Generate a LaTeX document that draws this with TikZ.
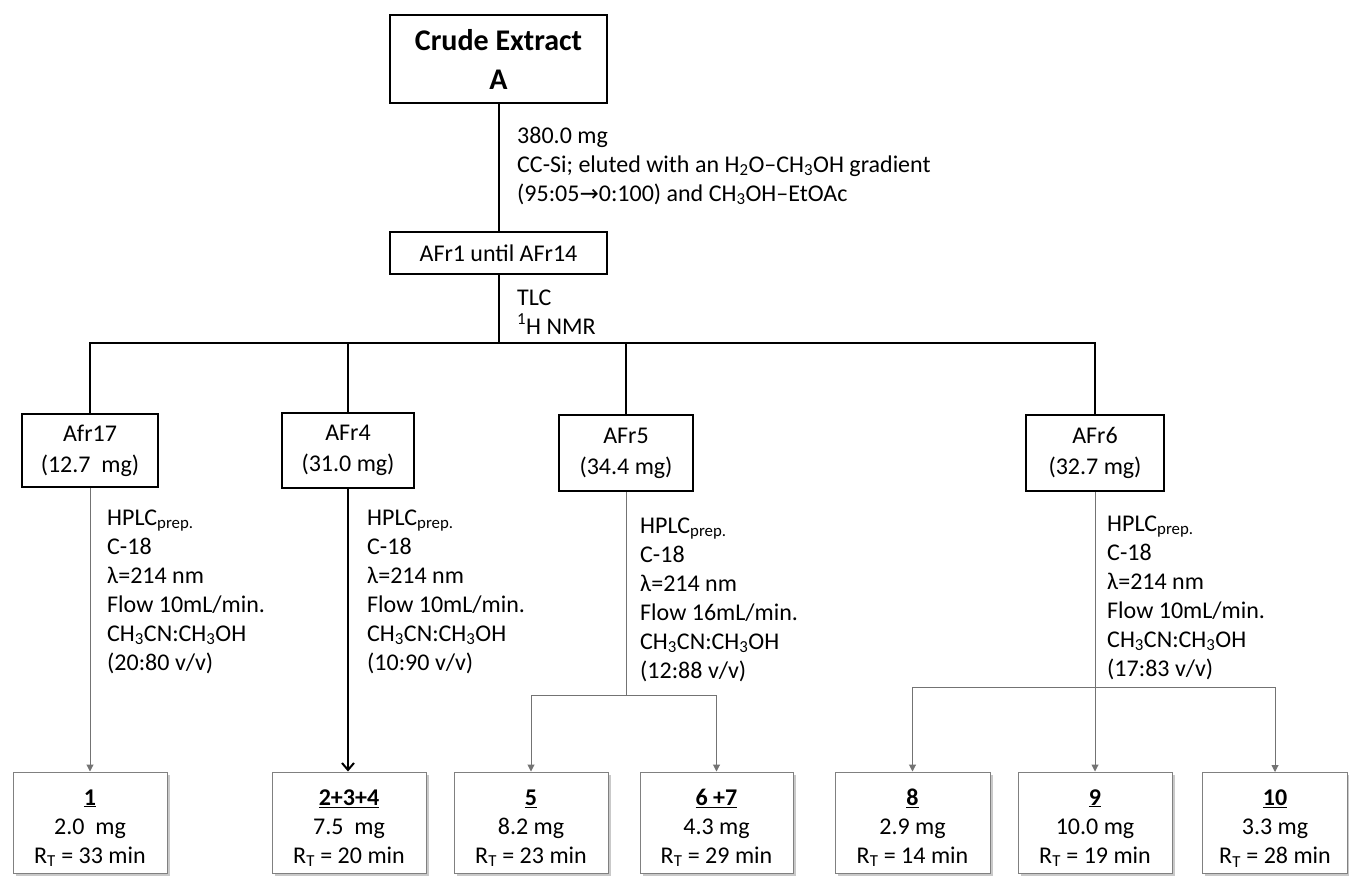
\documentclass[tikz,border=0pt]{standalone}
\usepackage{fontspec}
\setmainfont{Carlito}
\newfontfamily\arrowfont{DejaVu Sans}
\usetikzlibrary{arrows.meta,shadows}
\definecolor{thinline}{gray}{0.45}
\definecolor{boxline}{gray}{0.5}
\tikzset{
  mainbox/.style={draw=black, line width=2pt, inner sep=0pt, align=center},
  fracbox/.style={draw=black, line width=1.8pt, inner sep=0pt, align=center, font=\fontsize{24}{31}\selectfont},
  resbox/.style={draw=boxline, line width=1pt, fill=white, inner sep=0pt, align=center,
     minimum height=101pt, font=\fontsize{24}{29}\selectfont,
     drop shadow={shadow xshift=2.5pt, shadow yshift=-2.5pt, opacity=0.35, fill=black!60}},
  note/.style={inner sep=0pt, anchor=base west, align=left, font=\fontsize{24}{29}\selectfont},
  thick line/.style={draw=black, line width=2pt},
  bus line/.style={draw=black, line width=2.4pt},
  thin arrow/.style={draw=thinline, line width=1pt, -{Triangle[length=7pt,width=7pt]}},
  thin line/.style={draw=thinline, line width=1pt},
  bold arrow/.style={draw=black, line width=2pt, -{Straight Barb[length=7pt,width=12pt,line width=2pt]}}
}
\newcommand{\ssub}[1]{\textsubscript{#1}}
\newcommand{\tstrut}{\rule{0pt}{27pt}}
\begin{document}
\begin{tikzpicture}[x=1pt,y=-1pt]
\useasboundingbox (0,0) rectangle (1349,876);
\fill[white] (0,0) rectangle (1349,876);

% top boxes
\node[mainbox, minimum width=217pt, minimum height=88pt, font=\fontsize{30}{39}\selectfont\bfseries] (crude) at (498.5,59) {Crude Extract\\A};
\node[mainbox, minimum width=217pt, minimum height=42pt, font=\fontsize{24}{29}\selectfont] (afr1) at (498.5,253) {AFr1 until AFr14};

% base anchor = baseline of last line
\node[note] (t1) at (517,201) {380.0 mg\\CC-Si; eluted with an H\ssub{2}O–CH\ssub{3}OH gradient\\(95:05{\arrowfont\fontsize{23}{29}\selectfont →}0:100) and CH\ssub{3}OH–EtOAc};
\node[note] (t2) at (517,334) {TLC\\\textsuperscript{1}H NMR};

\coordinate (bus) at (498.5,343);

% fraction boxes
\node[fracbox, minimum width=136pt, minimum height=73pt] (f17) at (90,450.5) {Afr17\\(12.7~~mg)};
\node[fracbox, minimum width=132pt, minimum height=75pt] (f4) at (348,450.5) {AFr4\\(31.0 mg)};
\node[fracbox, minimum width=134pt, minimum height=76pt] (f5) at (626,453) {AFr5\\(34.4 mg)};
\node[fracbox, minimum width=138pt, minimum height=76pt] (f6) at (1095,453) {AFr6\\(32.7 mg)};

% connectors top
\draw[thick line] (crude.south) -- (afr1.north);
\draw[thick line] (afr1.south) -- (bus);
\draw[bus line] (bus) -| (f17.north);
\draw[bus line] (bus) -| (f4.north);
\draw[bus line] (bus) -| (f5.north);
\draw[bus line] (bus) -| (f6.north);

% HPLC notes
\node[note] (h17) at (107,670) {HPLC\ssub{prep.}\\C-18\\λ=214 nm\\Flow 10mL/min.\\CH\ssub{3}CN:CH\ssub{3}OH\\(20:80 v/v)};
\node[note] (h4) at (367,670) {HPLC\ssub{prep.}\\C-18\\λ=214 nm\\Flow 10mL/min.\\CH\ssub{3}CN:CH\ssub{3}OH\\(10:90 v/v)};
\node[note] (h5) at (640,678) {HPLC\ssub{prep.}\\C-18\\λ=214 nm\\Flow 16mL/min.\\CH\ssub{3}CN:CH\ssub{3}OH\\(12:88 v/v)};
\node[note] (h6) at (1107,676) {HPLC\ssub{prep.}\\C-18\\λ=214 nm\\Flow 10mL/min.\\CH\ssub{3}CN:CH\ssub{3}OH\\(17:83 v/v)};

% result boxes
\node[resbox, minimum width=154pt] (b1) at (90,822.5) {\tstrut\textbf{\underline{1}}\\2.0~~mg\\R\ssub{T} = 33 min};
\node[resbox, minimum width=154pt] (b234) at (349,822.5) {\tstrut\textbf{\underline{2+3+4}}\\7.5~~mg\\R\ssub{T} = 20 min};
\node[resbox, minimum width=154pt] (b5) at (531,822.5) {\tstrut\textbf{\underline{5}}\\8.2 mg\\R\ssub{T} = 23 min};
\node[resbox, minimum width=153pt] (b67) at (716.5,822.5) {\tstrut\textbf{\underline{6 +7}}\\4.3 mg\\R\ssub{T} = 29 min};
\node[resbox, minimum width=155pt] (b8) at (912.5,822.5) {\tstrut\textbf{\underline{8}}\\2.9 mg\\R\ssub{T} = 14 min};
\node[resbox, minimum width=154pt] (b9) at (1095,822.5) {\tstrut\textbf{\underline{9}}\\10.0 mg\\R\ssub{T} = 19 min};
\node[resbox, minimum width=145pt] (b10) at (1275,823) {\tstrut\textbf{\underline{10}}\\3.3 mg\\R\ssub{T} = 28 min};

% connectors bottom
\draw[thin arrow] (f17.south) -- (b1.north);
\draw[bold arrow] (f4.south) -- (f4.south |- b234.north);

\coordinate (j5) at (626,695);
\draw[thin line] (f5.south) -- (j5);
\draw[thin arrow] (j5) -| (b5.north);
\draw[thin arrow] (j5) -| (b67.north);

\coordinate (j6) at (1095,687);
\draw[thin line] (f6.south) -- (j6);
\draw[thin arrow] (j6) -| (b8.north);
\draw[thin arrow] (j6) -- (b9.north);
\draw[thin arrow] (j6) -| (b10.north);
\end{tikzpicture}
\end{document}
